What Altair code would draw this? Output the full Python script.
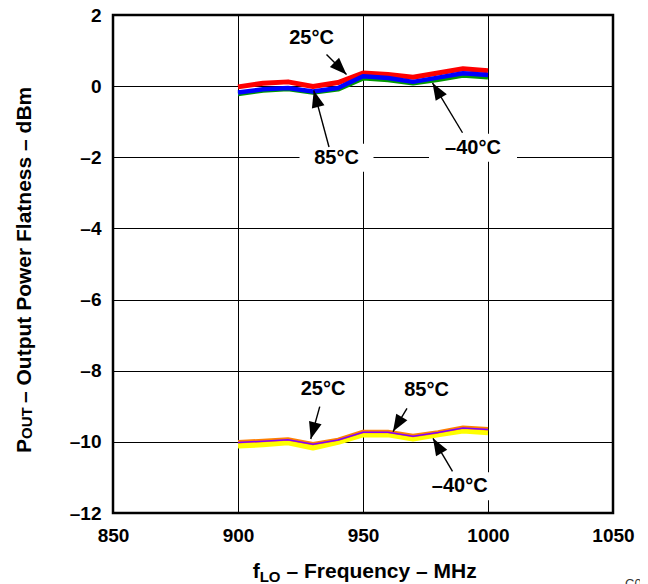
import math
import altair as alt
import pandas as pd

# ---------------- data ----------------
freq = [900, 910, 920, 930, 940, 950, 960, 970, 980, 990, 1000]

# upper group
up_25c = [-0.02, 0.08, 0.12, -0.01, 0.10, 0.37, 0.33, 0.25, 0.37, 0.49, 0.43]
up_85c = [-0.18, -0.09, -0.05, -0.15, -0.05, 0.28, 0.23, 0.12, 0.24, 0.36, 0.31]
up_m40c = [-0.22, -0.12, -0.08, -0.18, -0.09, 0.22, 0.17, 0.08, 0.18, 0.30, 0.25]

# lower group
lo_m40c = [-10.10, -10.07, -10.01, -10.16, -10.00, -9.79, -9.79, -9.91, -9.79, -9.68, -9.73]
lo_25c = [-10.00, -9.96, -9.92, -10.05, -9.93, -9.71, -9.71, -9.82, -9.72, -9.59, -9.63]
lo_85c = [-10.02, -9.98, -9.94, -10.07, -9.95, -9.73, -9.73, -9.84, -9.74, -9.61, -9.65]

# draw order: first = bottom
series = [
    ("up -40C", up_m40c, "#009900", 4.5),
    ("up 25C", up_25c, "#FF0000", 5.0),
    ("up 85C", up_85c, "#0000FF", 4.5),
    ("lo -40C", lo_m40c, "#FFFF00", 6.0),
    ("lo 25C", lo_25c, "#FF8000", 3.5),
    ("lo 85C", lo_85c, "#8000FF", 1.5),
]

x_ticks = [850, 900, 950, 1000, 1050]
y_ticks = [-12, -10, -8, -6, -4, -2, 0, 2]

# annotations (data units)
ann_label = ["25°C", "85°C", "–40°C", "25°C", "85°C", "–40°C"]
ann_label_x = [929.4, 939.4, 994.0, 934.0, 975.4, 988.7]
ann_label_y = [1.35, -2.01, -1.73, -8.50, -8.54, -11.25]
ann_tail_x = [935.4, 936.4, 989.8, 932.7, 967.6, 985.8]
ann_tail_y = [0.89, -1.71, -1.31, -9.01, -9.06, -10.83]
ann_tip_x = [943.4, 930.3, 977.8, 929.1, 962.0, 978.0]
ann_tip_y = [0.33, -0.12, 0.09, -9.92, -9.71, -9.90]

# ---------------- layout ----------------
W, H = 500, 498
X_DOM = [850, 1050]
Y_DOM = [-12, 2]
px_x = W / (X_DOM[1] - X_DOM[0])
px_y = H / (Y_DOM[1] - Y_DOM[0])
FONT = "Liberation Sans"

xscale = alt.Scale(domain=X_DOM, nice=False, zero=False)
yscale = alt.Scale(domain=Y_DOM, nice=False, zero=False)

axis_common = dict(
    grid=True, gridColor="black", gridWidth=1, gridOpacity=1,
    domain=False, ticks=False, tickSize=0, format="d",
    labelFont=FONT, labelFontWeight="bold", labelFontSize=19,
    labelColor="black", labelFlush=False, labelOverlap=False, title=None,
)
x_axis = alt.Axis(values=x_ticks, labelPadding=13, **axis_common)
y_axis = alt.Axis(values=y_ticks, labelPadding=12,
                  labelExpr="replace(datum.label, '−', '–')", **axis_common)

X_ = lambda f: alt.X(f, scale=xscale, axis=x_axis)
Y_ = lambda f: alt.Y(f, scale=yscale, axis=y_axis)

layers = []
for name, vals, color, width in series:
    df = pd.DataFrame({"f": freq, "v": vals})
    layers.append(
        alt.Chart(df).mark_line(color=color, strokeWidth=width, strokeJoin="round")
        .encode(x=X_("f:Q"), y=Y_("v:Q"))
    )

ann = pd.DataFrame({
    "label": ann_label,
    "lx": ann_label_x, "ly": ann_label_y,
    "tx": ann_tail_x, "ty": ann_tail_y,
    "hx": ann_tip_x, "hy": ann_tip_y,
})
ann["angle"] = [
    math.degrees(math.atan2((hx - tx) * px_x, (hy - ty) * px_y)) % 360
    for tx, ty, hx, hy in zip(ann.tx, ann.ty, ann.hx, ann.hy)
]
def box_path(label):
    hw = 37 if len(label) <= 4 else 44
    return f"M{-hw},-14L{hw},-14L{hw},14L{-hw},14Z"
ann["box"] = [box_path(s) for s in ann_label]

boxes = alt.Chart(ann).mark_point(filled=True, fill="white", strokeWidth=0,
                                   opacity=1, size=4).encode(
    x=X_("lx:Q"), y=Y_("ly:Q"), shape=alt.Shape("box:N", scale=None))

shafts = alt.Chart(ann).mark_rule(color="black", strokeWidth=1.4).encode(
    x=X_("tx:Q"), y=Y_("ty:Q"), x2="hx:Q", y2="hy:Q")

heads = alt.Chart(ann).mark_point(shape="M0,0L6.5,17L-6.5,17Z", filled=True,
                                  fill="black", strokeWidth=0, opacity=1,
                                  size=4).encode(
    x=X_("hx:Q"), y=Y_("hy:Q"), angle=alt.Angle("angle:Q", scale=None))

labels = alt.Chart(ann).mark_text(font=FONT, fontWeight="bold", fontSize=20,
                                  color="black", align="center",
                                  baseline="middle").encode(
    x=X_("lx:Q"), y=Y_("ly:Q"), text="label:N")

one = pd.DataFrame({"a": [0]})
def txt(s, x, y, size, angle=0, weight="bold", color="black", baseline="alphabetic"):
    kw = dict(font=FONT, fontWeight=weight, fontSize=size, color=color,
              align="left", baseline=baseline, text=s)
    if angle:
        kw["angle"] = angle
    return alt.Chart(one).mark_text(**kw).encode(x=alt.value(x), y=alt.value(y))

titles = [
    # y-axis title (rotated)
    txt("P", -82.5, 438, 21, angle=270),
    txt("OUT", -81, 424, 15, angle=270),
    txt("– Output Power Flatness – dBm", -82.5, 388, 21, angle=270),
    # x-axis title
    txt("f", 139.7, 563, 21),
    txt("LO", 146.7, 566.5, 15),
    txt("– Frequency – MHz", 173.5, 563, 21),
    # figure code (cut off at page edge)
    txt("C023", 512, 563, 13, weight="normal", color="#333333", baseline="top"),
]

chart = alt.layer(*layers, boxes, shafts, heads, labels, *titles).properties(
    width=W, height=H,
    autosize=alt.AutoSizeParams(type="none"),
    padding={"left": 105, "top": 7, "right": 27, "bottom": 71},
    background="white",
).configure_view(stroke="black", strokeWidth=2.5)

chart.save("out.html", embed_options={"renderer": "svg", "actions": False})
